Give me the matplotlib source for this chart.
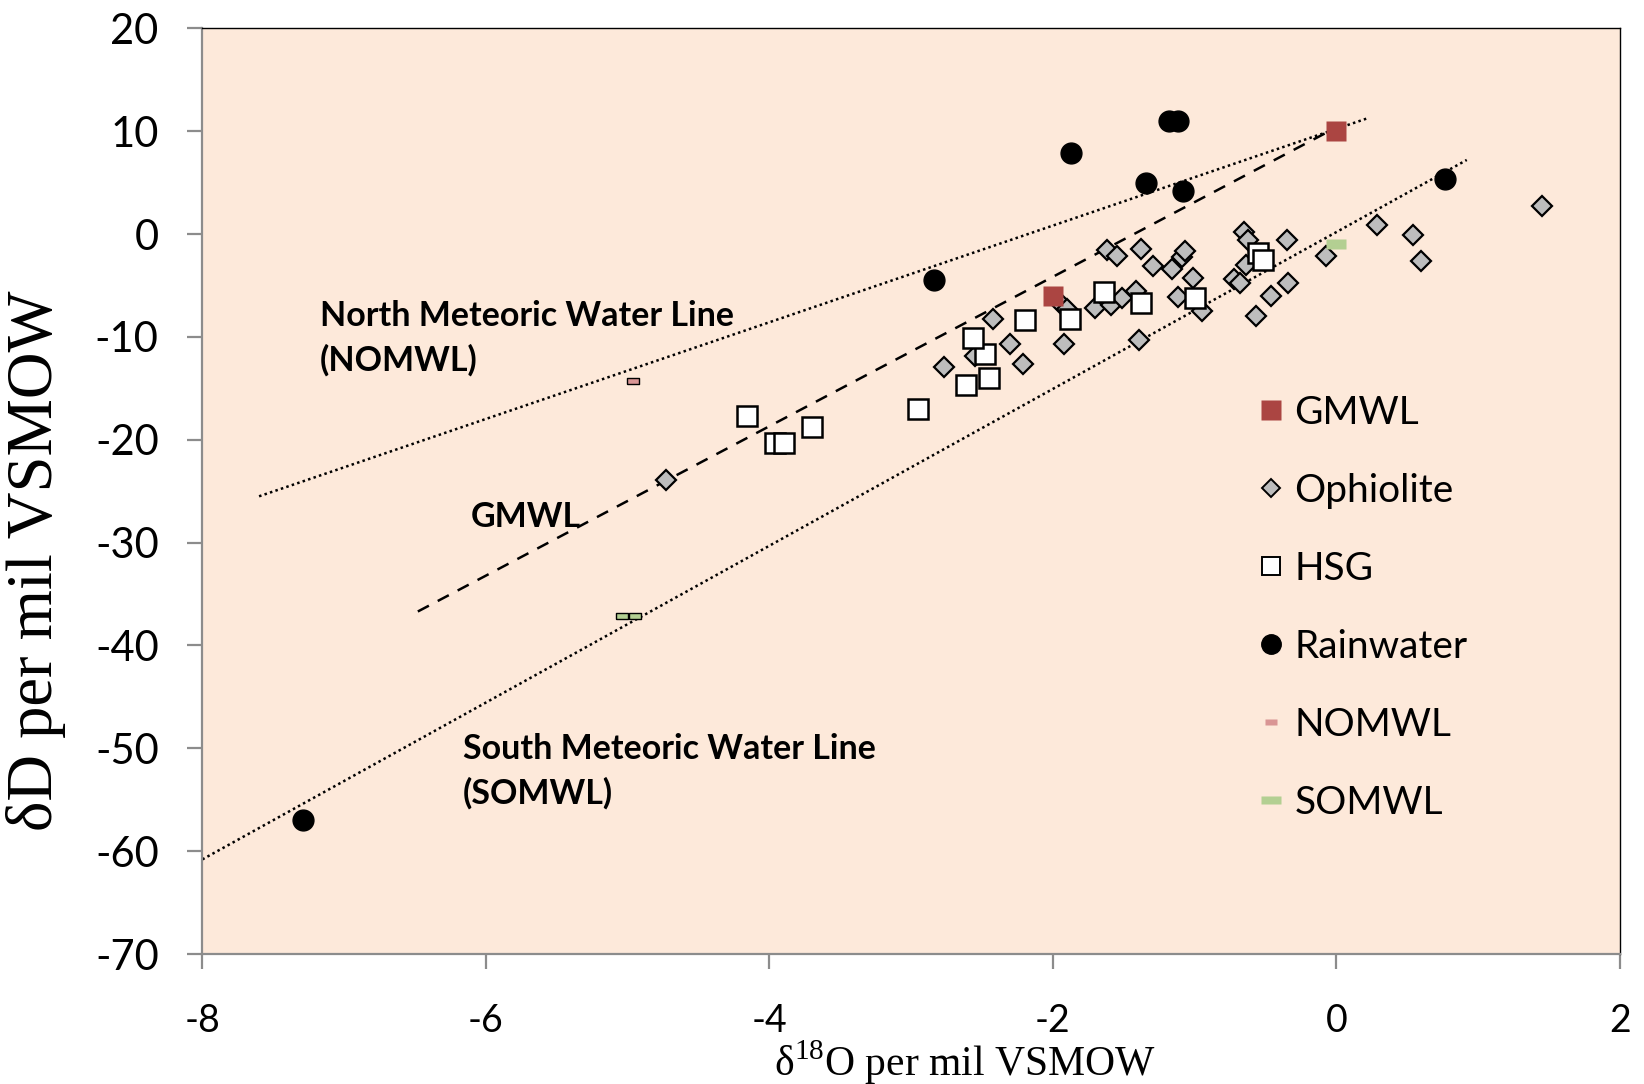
import matplotlib
matplotlib.use("Agg")
import matplotlib.pyplot as plt
from matplotlib.lines import Line2D

plt.rcParams['axes.unicode_minus'] = False
plt.rcParams['mathtext.fontset'] = 'custom'
plt.rcParams['mathtext.rm'] = 'Liberation Serif'

# --- data (delta18O, deltaD) ---
gmwl_x = [0.0, -2.0]
gmwl_y = [10.0, -6.0]

rain_x = [-1.18, -1.12, -1.87, -1.34, -1.08, 0.77, -2.84, -7.29]
rain_y = [11.0, 11.0, 7.9, 5.0, 4.2, 5.3, -4.5, -57.0]

hsg_x = [-4.16, -3.96, -3.90, -3.70, -2.95, -2.61, -2.45, -2.48, -2.56, -2.20,
         -1.88, -1.64, -1.38, -1.00, -0.55, -0.52]
hsg_y = [-17.7, -20.3, -20.3, -18.8, -17.0, -14.7, -14.0, -11.7, -10.1, -8.4,
         -8.3, -5.6, -6.7, -6.2, -1.8, -2.5]

oph_x = [-1.62, -1.55, -1.38, -1.29, -1.16, -1.09, -1.07, -1.01, -1.12, -0.95,
         -1.39, -0.65, -0.62, -0.64, -0.72, -0.68, -0.46, -0.34, -0.57, -0.35,
         -2.42, -2.55, -2.30, -2.21, -2.77, -1.94, -1.90, -1.92, -1.70, -1.59,
         -1.51, -1.41, 1.45, 0.29, 0.54, 0.60, -0.07, -4.73]
oph_y = [-1.6, -2.1, -1.5, -3.1, -3.4, -2.2, -1.7, -4.3, -6.1, -7.5,
         -10.3, 0.2, -0.6, -3.0, -4.4, -4.8, -6.0, -4.8, -8.0, -0.6,
         -8.3, -11.9, -10.7, -12.6, -12.9, -6.8, -7.3, -10.7, -7.2, -6.9,
         -6.2, -5.5, 2.7, 0.9, -0.1, -2.6, -2.1, -23.9]

nomwl_x = [-4.96]
nomwl_y = [-14.3]
somwl_x = [-5.04, -4.95]
somwl_y = [-37.1, -37.1]
somwl0_x = [0.0]
somwl0_y = [-1.0]

# meteoric water lines (end points)
north_line_x = [-7.6, 0.23]
north_line_y = [-25.5, 11.3]
global_line_x = [-6.48, 0.06]
global_line_y = [-36.7, 10.8]
south_line_x = [-8.0, 0.92]
south_line_y = [-60.8, 7.2]

bg = '#FDE9DA'
red = '#AB4542'
pink = '#D99594'
green = '#B3CF92'
grey_ax = '#8C8C8C'
dash = [(-1, -0.45), (1, -0.45), (1, 0.45), (-1, 0.45), (-1, -0.45)]

fig = plt.figure(figsize=(16.44, 10.84), dpi=100)
ax = fig.add_axes([0.1231, 0.1199, 0.8622, 0.854])
ax.set_facecolor(bg)

ax.plot(north_line_x, north_line_y, color='black', linestyle=(0, (1, 1.3)), linewidth=1.8, zorder=2)
ax.plot(global_line_x, global_line_y, color='black', linestyle=(0, (5, 4)), linewidth=1.8, zorder=2)
ax.plot(south_line_x, south_line_y, color='black', linestyle=(0, (1, 1.3)), linewidth=1.8, zorder=2)

ax.plot(oph_x, oph_y, 'D', ms=10, mfc='#BDBDBD', mec='black', mew=1.6, zorder=3)
ax.plot(hsg_x, hsg_y, 's', ms=14, mfc='white', mec='black', mew=1.8, zorder=4)
ax.plot(rain_x, rain_y, 'o', ms=15, mfc='black', mec='black', zorder=5)
ax.plot(gmwl_x, gmwl_y, 's', ms=14, mfc=red, mec='none', zorder=4)
ax.plot(nomwl_x, nomwl_y, marker=dash, ls='none', ms=9, mfc=pink, mec='black', mew=1.0, zorder=4)
ax.plot(somwl_x, somwl_y, marker=dash, ls='none', ms=9, mfc=green, mec='black', mew=1.0, zorder=4)
ax.plot(somwl0_x, somwl0_y, marker=dash, ls='none', ms=15, mfc=green, mec='none', zorder=4)

ax.set_xlim(-8, 2)
ax.set_ylim(-70, 20)
ax.set_xticks(range(-8, 3, 2))
ax.set_yticks(range(-70, 21, 10))
for s in ['top', 'right']:
    ax.spines[s].set_color('black')
    ax.spines[s].set_linewidth(1.0)
for s in ['left', 'bottom']:
    ax.spines[s].set_color(grey_ax)
    ax.spines[s].set_linewidth(1.6)
ax.tick_params(direction='out', length=10.5, width=1.6, color=grey_ax)
ax.tick_params(axis='y', labelsize=30, pad=21)
ax.tick_params(axis='x', labelsize=27, pad=25)
for lab in ax.get_xticklabels() + ax.get_yticklabels():
    lab.set_fontfamily('Lato')

ax.set_xlabel('δ$^{18}$O per mil VSMOW', fontfamily='Liberation Serif', fontsize=30)
ax.xaxis.set_label_coords(0.538, -0.091)
ax.set_ylabel('δD per mil VSMOW', fontfamily='Liberation Serif', fontsize=46.5)
ax.yaxis.set_label_coords(-0.096, 0.425)

txt = dict(fontfamily='Lato', fontweight='bold', fontsize=24.5, linespacing=1.45)
ax.text(-7.17, -10.17, 'North Meteoric Water Line\n(NOMWL)', va='center', ha='left', **txt)
ax.text(-6.11, -27.5, 'GMWL', va='center', ha='left', **txt)
ax.text(-6.16, -52.2, 'South Meteoric Water Line\n(SOMWL)', va='center', ha='left', **txt)

handles = [
    Line2D([], [], ls='none', marker='s', ms=14, mfc=red, mec='none'),
    Line2D([], [], ls='none', marker='D', ms=9, mfc='#BDBDBD', mec='black', mew=1.4),
    Line2D([], [], ls='none', marker='s', ms=13, mfc='white', mec='black', mew=1.4),
    Line2D([], [], ls='none', marker='o', ms=14, mfc='black', mec='black'),
    Line2D([], [], ls='none', marker=dash, ms=9, mfc=pink, mec='none'),
    Line2D([], [], ls='none', marker=dash, ms=14, mfc=green, mec='none'),
]
labels = ['GMWL', 'Ophiolite', 'HSG', 'Rainwater', 'NOMWL', 'SOMWL']
leg = ax.legend(handles, labels, loc='center left', bbox_to_anchor=(0.743, 0.374),
                frameon=False, prop={'family': 'Lato', 'size': 28},
                labelspacing=1.08, handlelength=0.8, handletextpad=0.2,
                borderaxespad=0, borderpad=0)

fig.savefig('out.png', dpi=100, facecolor='white')
